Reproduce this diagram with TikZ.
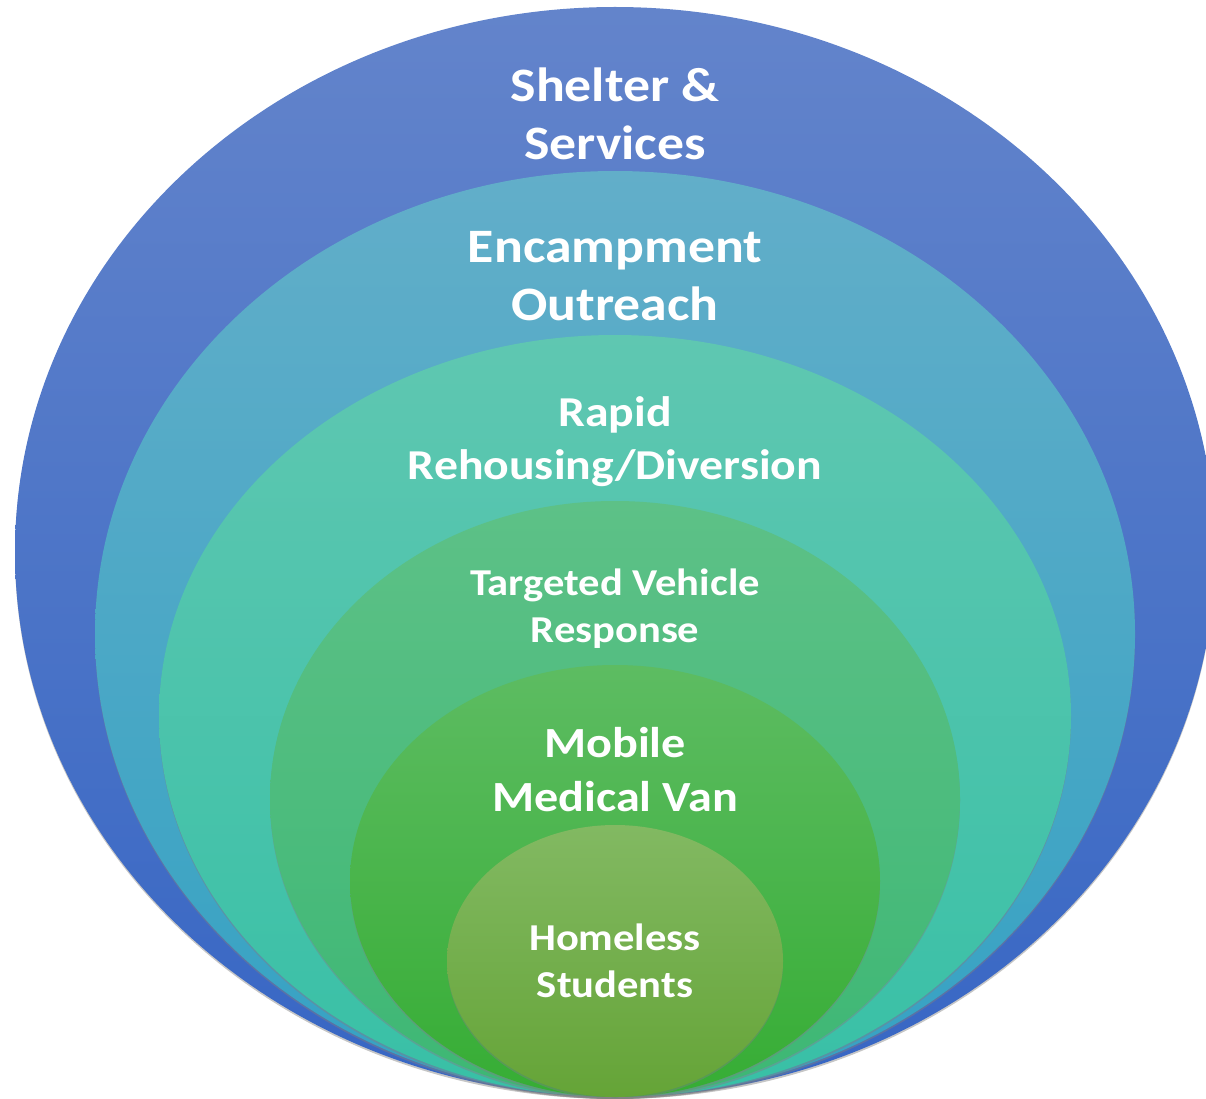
\documentclass[tikz,border=0pt]{standalone}
\usepackage{fontspec}
\setmainfont{Carlito}[FakeStretch=1.12]
\usepackage{tikz}
\usetikzlibrary{shadows}
\definecolor{shelterTop}{HTML}{6384CB}
\definecolor{shelterBot}{HTML}{3766C4}
\definecolor{encTop}{HTML}{62AEC9}
\definecolor{encBot}{HTML}{35A2C3}
\definecolor{rapidTop}{HTML}{5FC7B1}
\definecolor{rapidBot}{HTML}{38C0A6}
\definecolor{targTop}{HTML}{5DC187}
\definecolor{targBot}{HTML}{3DB774}
\definecolor{mobTop}{HTML}{5DBC62}
\definecolor{mobBot}{HTML}{36AD34}
\definecolor{homeTop}{HTML}{82B962}
\definecolor{homeBot}{HTML}{65A437}
\tikzset{ring/.style={drop shadow={shadow xshift=0pt,shadow yshift=-2pt,opacity=0.45}},
lbl/.style={text=white,font=\bfseries,align=center,inner sep=0pt}}

\begin{document}
\begin{tikzpicture}[x=1pt,y=-1pt]
	\useasboundingbox (0,0) rectangle (1206,1099);
	% nested rings, outer to inner
	\foreach \cy/\rx/\ry/\ctop/\cbot in {
			552/600/545/shelterTop/shelterBot,
			634/520/463/encTop/encBot,
			716/456/381/rapidTop/rapidBot,
			799/345/298/targTop/targBot,
			881/265/216/mobTop/mobBot,
			961/168/136/homeTop/homeBot}
		\shade[ring,top color=\ctop,bottom color=\cbot] (615,\cy) ellipse [x radius=\rx,y radius=\ry];
	% labels
	\node[lbl,font=\bfseries\fontsize{48}{58}\selectfont] (shelter) at (615,114) {Shelter \&\\Services};
	\node[lbl,font=\bfseries\fontsize{48}{58}\selectfont] (encamp) at (615,276) {Encampment\\Outreach};
	\node[lbl,font=\bfseries\fontsize{42.6}{53}\selectfont] (rapid) at (615,442) {Rapid\\Rehousing/Diversion};
	\node[lbl,font=\bfseries\fontsize{38}{47}\selectfont] (targeted) at (615,609) {Targeted Vehicle\\Response};
	\node[lbl,font=\bfseries\fontsize{43}{54}\selectfont] (mobile) at (615,770) {Mobile\\Medical Van};
	\node[lbl,font=\bfseries\fontsize{38}{47}\selectfont] (homeless) at (615,961) {Homeless\\Students};
\end{tikzpicture}
\end{document}
